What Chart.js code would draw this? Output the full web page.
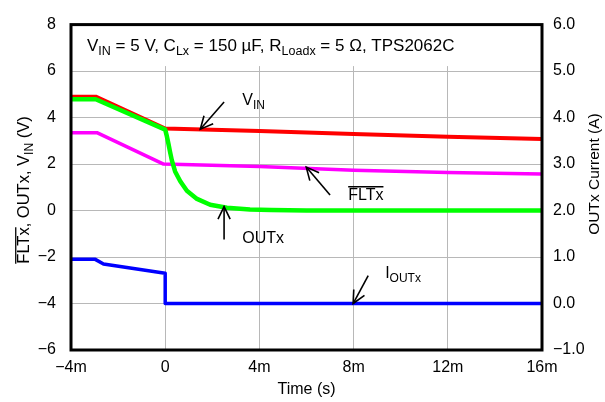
<!DOCTYPE html>
<html><head><meta charset="utf-8">
<script src="https://cdn.jsdelivr.net/npm/chart.js@4/dist/chart.umd.min.js"></script>
<style>html,body{margin:0;padding:0;background:#fff}#wrap{width:605px;height:402px}</style>
</head><body><div id="wrap"><canvas id="c" width="605" height="402"></canvas></div>
<script>
// ---- data (time in ms) ----
const vinTime  = [-4, -2.95, 0, 4, 8, 12, 16];
const vinVolts = [4.9, 4.9, 3.53, 3.42, 3.29, 3.18, 3.08];
const outTime  = [-4, -2.95, 0, 0.07, 0.14, 0.21, 0.28, 0.42, 0.64, 0.92, 1.35, 1.91, 2.62, 3.6, 4.5, 6, 16];
const outVolts = [4.79, 4.79, 3.48, 3.2, 2.86, 2.5, 2.17, 1.68, 1.26, 0.85, 0.5, 0.25, 0.12, 0.05, 0.02, 0, 0];
const fltTime  = [-4, -2.9, -0.07, 4, 8, 12, 16];
const fltVolts = [3.35, 3.35, 2.0, 1.9, 1.73, 1.64, 1.57];
const ioutTime = [-4, -2.97, -2.62, 0, 0, 16];
const ioutAmps = [0.95, 0.95, 0.85, 0.65, 0, 0];
const xTicks   = [-4, 0, 4, 8, 12, 16];
const yTicks   = [-6, -4, -2, 0, 2, 4, 6, 8];
const y2Ticks  = [-1, 0, 1, 2, 3, 4, 5, 6];

const FONT = 'Liberation Sans, Arial, sans-serif';
const pts = (xs, ys) => xs.map((x, i) => ({x, y: ys[i]}));
const minus = s => s.replace('-', '\u2212');

function richWidth(ctx, parts, size, sub) {
  let w = 0;
  for (const p of parts) { ctx.font = (p.sub ? sub : size) + 'px ' + FONT; w += ctx.measureText(p.t).width; }
  return w;
}
function drawRich(ctx, parts, x, y, size, sub) {
  ctx.textBaseline = 'alphabetic'; ctx.textAlign = 'left'; ctx.fillStyle = '#000';
  const base = y + size * 0.36;
  let cx = x;
  parts.forEach(p => {
    ctx.font = (p.sub ? sub : size) + 'px ' + FONT;
    const w = ctx.measureText(p.t).width;
    ctx.fillText(p.t, cx, p.sub ? base + size * 0.27 : base);
    if (p.over) {
      ctx.save(); ctx.strokeStyle = '#000'; ctx.lineWidth = 1.3;
      ctx.beginPath(); ctx.moveTo(cx, base - size * 0.8); ctx.lineTo(cx + w, base - size * 0.8); ctx.stroke();
      ctx.restore();
    }
    cx += w;
  });
}
function arrow(ctx, x1, y1, x2, y2) {
  ctx.save(); ctx.strokeStyle = '#000'; ctx.lineWidth = 1.6;
  ctx.beginPath(); ctx.moveTo(x1, y1); ctx.lineTo(x2, y2); ctx.stroke();
  const a = Math.atan2(y1 - y2, x1 - x2), L = 14, s = 0.45;
  ctx.beginPath();
  ctx.moveTo(x2 + L * Math.cos(a + s), y2 + L * Math.sin(a + s));
  ctx.lineTo(x2, y2);
  ctx.lineTo(x2 + L * Math.cos(a - s), y2 + L * Math.sin(a - s));
  ctx.stroke(); ctx.restore();
}

const deco = {
  id: 'deco',
  beforeDatasetsDraw(chart) {
    const {ctx, chartArea: a, scales} = chart;
    const y6 = scales.y.getPixelForValue(6);
    ctx.save();
    ctx.fillStyle = '#fff';
    ctx.fillRect(a.left, a.top, a.right - a.left, y6 - 5 - a.top);
    drawRich(ctx, [{t:'V'},{t:'IN',sub:1},{t:' = 5 V, C'},{t:'Lx',sub:1},{t:' = 150 \u00b5F, R'},{t:'Loadx',sub:1},{t:' = 5 \u03a9, TPS2062C'}],
      a.left + 16, a.top + 20, 17, 12.5);
    ctx.restore();
  },
  afterDatasetsDraw(chart) {
    const {ctx, chartArea: a, scales} = chart;
    const X = v => scales.x.getPixelForValue(v), Y = v => scales.y.getPixelForValue(v), Y2 = v => scales.y2.getPixelForValue(v);
    ctx.save();
    ctx.strokeStyle = '#000'; ctx.lineWidth = 3;
    ctx.strokeRect(a.left, a.top, a.right - a.left, a.bottom - a.top);
    // annotations
    arrow(ctx, X(2.5), Y(4.67), X(1.49), Y(3.5));
    drawRich(ctx, [{t:'V'},{t:'IN',sub:1}], X(3.27), Y(4.79), 16, 12);
    arrow(ctx, X(7.0), Y(0.67), X(5.99), Y(1.87));
    drawRich(ctx, [{t:'FLTx',over:1}], X(7.77), Y(0.72), 16, 12);
    arrow(ctx, X(2.5), Y(-1.25), X(2.5), Y(0.17));
    drawRich(ctx, [{t:'OUTx'}], X(3.27), Y(-1.17), 16, 12);
    arrow(ctx, X(8.62), Y2(0.6), X(7.98), Y2(0.0));
    drawRich(ctx, [{t:'I'},{t:'OUTx',sub:1}], X(9.34), Y2(0.68), 16, 12);
    // axis titles
    ctx.save();
    ctx.translate(23, 190); ctx.rotate(-Math.PI / 2);
    const lp = [{t:'FLTx',over:1},{t:', OUTx, V'},{t:'IN',sub:1},{t:' (V)'}];
    const lw = richWidth(ctx, lp, 16.5, 12);
    drawRich(ctx, lp, -lw / 2, 0, 16.5, 12);
    ctx.restore();
    ctx.save();
    ctx.translate(593, 174); ctx.rotate(-Math.PI / 2);
    const rp = [{t:'OUTx Current (A)'}];
    const rw = richWidth(ctx, rp, 15.5, 12);
    drawRich(ctx, rp, -rw / 2, 0, 15.5, 12);
    ctx.restore();
    const tp = [{t:'Time (s)'}];
    const tw = richWidth(ctx, tp, 16, 12);
    drawRich(ctx, tp, (a.left + a.right) / 2 - tw / 2, 388, 16, 12);
    ctx.restore();
  }
};

const tickFont = {family: FONT, size: 16};
new Chart(document.getElementById('c'), {
  type: 'line',
  data: {
    datasets: [
      {label: 'OUTx', data: pts(outTime, outVolts), borderColor: '#00ff00', borderWidth: 4.5, yAxisID: 'y', order: 0},
      {label: 'VIN', data: pts(vinTime, vinVolts), borderColor: '#ff0000', borderWidth: 4, yAxisID: 'y', order: 1},
      {label: 'FLTx', data: pts(fltTime, fltVolts), borderColor: '#ff00ff', borderWidth: 3.5, yAxisID: 'y', order: 2},
      {label: 'IOUTx', data: pts(ioutTime, ioutAmps), borderColor: '#0000ff', borderWidth: 3.5, yAxisID: 'y2', order: 3}
    ]
  },
  options: {
    responsive: false, animation: false, devicePixelRatio: 1,
    layout: {padding: {top: 15, left: 0, right: 0, bottom: 0}},
    plugins: {legend: {display: false}, tooltip: {enabled: false}},
    elements: {point: {radius: 0}, line: {tension: 0, borderJoinStyle: 'round', fill: false}},
    scales: {
      x: {
        type: 'linear', min: -4, max: 16,
        afterBuildTicks: s => { s.ticks = xTicks.map(v => ({value: v})); },
        grid: {color: '#b8b8b8', lineWidth: 1, drawTicks: false}, border: {display: false},
        ticks: {padding: 8, color: '#000', font: tickFont, maxRotation: 0, autoSkip: false,
          callback: v => v === 0 ? '0' : minus(String(v)) + 'm'},
        afterFit: s => { s.height = 52; }
      },
      y: {
        position: 'left', min: -6, max: 8,
        afterBuildTicks: s => { s.ticks = yTicks.map(v => ({value: v})); },
        grid: {color: '#b8b8b8', lineWidth: 1, drawTicks: false}, border: {display: false},
        ticks: {padding: 15, color: '#000', font: tickFont, callback: v => minus(String(v))},
        afterFit: s => { s.width = 71; }
      },
      y2: {
        position: 'right', min: -1, max: 6,
        afterBuildTicks: s => { s.ticks = y2Ticks.map(v => ({value: v})); },
        grid: {display: false, drawTicks: false}, border: {display: false},
        ticks: {padding: 11, color: '#000', font: tickFont, callback: v => minus(v.toFixed(1))},
        afterFit: s => { s.width = 63; }
      }
    }
  },
  plugins: [deco]
});
</script>
</body></html>
